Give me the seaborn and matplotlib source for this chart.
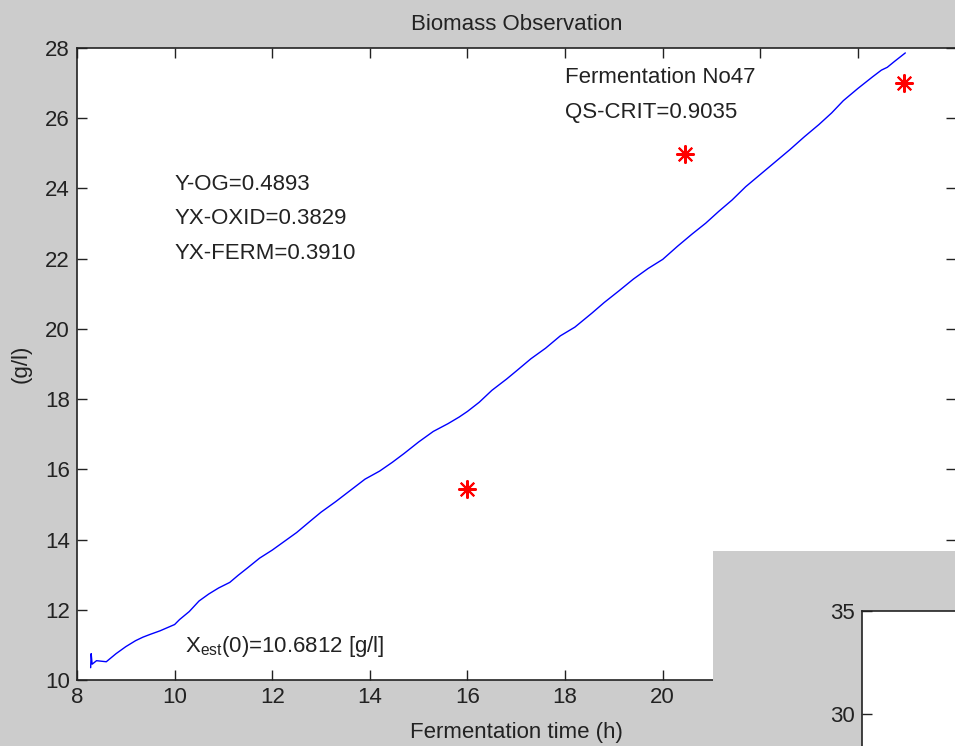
import matplotlib
matplotlib.use("Agg")
import matplotlib.pyplot as plt
import seaborn as sns
import pandas as pd

# ---- data ----
time_h = [8.28, 8.29, 8.31, 8.40, 8.60, 8.80, 9.00, 9.20, 9.35, 9.50, 9.70, 9.90,
          10.00, 10.10, 10.30, 10.50, 10.70, 10.90, 11.13, 11.30, 11.50, 11.74,
          12.00, 12.20, 12.50, 12.80, 13.00, 13.30, 13.60, 13.90, 14.20, 14.46,
          14.70, 15.00, 15.30, 15.60, 15.83, 16.00, 16.24, 16.50, 16.80, 17.00,
          17.30, 17.60, 17.90, 18.20, 18.55, 18.80, 19.10, 19.40, 19.70, 20.00,
          20.30, 20.60, 20.88, 21.15, 21.42, 21.70, 22.00, 22.30, 22.60, 22.90,
          23.20, 23.46, 23.70, 24.00, 24.30, 24.48, 24.60, 24.75, 24.97]
biomass_est = [10.35, 10.75, 10.45, 10.55, 10.52, 10.75, 10.95, 11.12, 11.22, 11.30, 11.40, 11.52,
               11.58, 11.72, 11.95, 12.25, 12.45, 12.62, 12.78, 12.98, 13.20, 13.47,
               13.70, 13.90, 14.20, 14.55, 14.78, 15.08, 15.40, 15.72, 15.95, 16.20,
               16.45, 16.78, 17.08, 17.30, 17.49, 17.65, 17.91, 18.25, 18.57, 18.80,
               19.15, 19.45, 19.80, 20.05, 20.45, 20.75, 21.08, 21.42, 21.72, 21.98,
               22.35, 22.70, 23.01, 23.35, 23.67, 24.05, 24.40, 24.75, 25.10, 25.47,
               25.82, 26.15, 26.50, 26.85, 27.18, 27.37, 27.45, 27.62, 27.86]
obs_time = [16.0, 20.45, 24.95]
obs_biomass = [15.45, 24.97, 27.0]

x_ticks = [8, 10, 12, 14, 16, 18, 20, 22, 24, 26]
y_ticks = [10, 12, 14, 16, 18, 20, 22, 24, 26, 28]
inset_y_ticks = [30, 35]

BG = "#cccccc"
FS = 16

sns.set_theme(style="ticks")
plt.rcParams["font.family"] = ["Liberation Sans", "DejaVu Sans"]
plt.rcParams["mathtext.default"] = "regular"

fig = plt.figure(figsize=(9.55, 7.46), dpi=100, facecolor=BG)
ax = fig.add_axes([77 / 955, 66 / 746, 878.6 / 955, 632 / 746])
ax.set_facecolor("white")

line_df = pd.DataFrame({"t": time_h, "x": biomass_est})
obs_df = pd.DataFrame({"t": obs_time, "x": obs_biomass})

sns.lineplot(data=line_df, x="t", y="x", ax=ax, color="#0000ff", linewidth=1.0,
             estimator=None, sort=False)
sns.scatterplot(data=obs_df, x="t", y="x", ax=ax, color="#ff0000",
                marker=(8, 2, 0), s=150, linewidth=1.5, edgecolor="#ff0000")

ax.set_xlim(8, 26)
ax.set_ylim(10, 28)
ax.set_xticks(x_ticks)
ax.set_yticks(y_ticks)
ax.tick_params(direction="in", length=7, width=1, colors="#222222",
               top=True, right=True, labelsize=FS, pad=5)
# labels under the overlapping window are hidden in the reference
for lbl, pos in zip(ax.get_xticklabels(), x_ticks):
    if pos > 21:
        lbl.set_visible(False)
for s in ax.spines.values():
    s.set_color("#222222")
    s.set_linewidth(1.2)

ax.set_title("Biomass Observation", fontsize=FS, pad=13, color="#222222")
ax.set_xlabel("Fermentation time (h)", fontsize=FS, labelpad=10, color="#222222")
ax.set_ylabel("(g/l)", fontsize=FS, labelpad=10, color="#222222")

tk = dict(fontsize=FS, color="#222222", ha="left", va="baseline")
ax.text(17.99, 27.0, "Fermentation No47", **tk)
ax.text(17.99, 26.0, "QS-CRIT=0.9035", **tk)
ax.text(9.99, 23.95, "Y-OG=0.4893", **tk)
ax.text(9.99, 23.0, "YX-OXID=0.3829", **tk)
ax.text(9.99, 22.0, "YX-FERM=0.3910", **tk)
ax.text(10.21, 10.79, "X$_{est}$(0)=10.6812 [g/l]", **tk)

# overlapping second window (gray panel with another axes)
panel = fig.add_axes([713 / 955, 0, 242 / 955 + 0.01, 195 / 746])
panel.set_facecolor(BG)
panel.set_xticks([])
panel.set_yticks([])
for s in panel.spines.values():
    s.set_visible(False)
panel.set_zorder(5)

inset = fig.add_axes([862 / 955, -149 / 746, 0.2, 284 / 746])
inset.set_facecolor("white")
inset.set_ylim(35 - 284 / 20.6, 35)
inset.set_yticks(inset_y_ticks)
inset.set_xticks([])
inset.tick_params(axis="y", direction="in", length=7, width=1, colors="#222222",
                  labelsize=FS, pad=5)
for s in inset.spines.values():
    s.set_color("#222222")
    s.set_linewidth(1.2)
inset.set_zorder(6)

fig.savefig("out.png", dpi=100, facecolor=BG)
